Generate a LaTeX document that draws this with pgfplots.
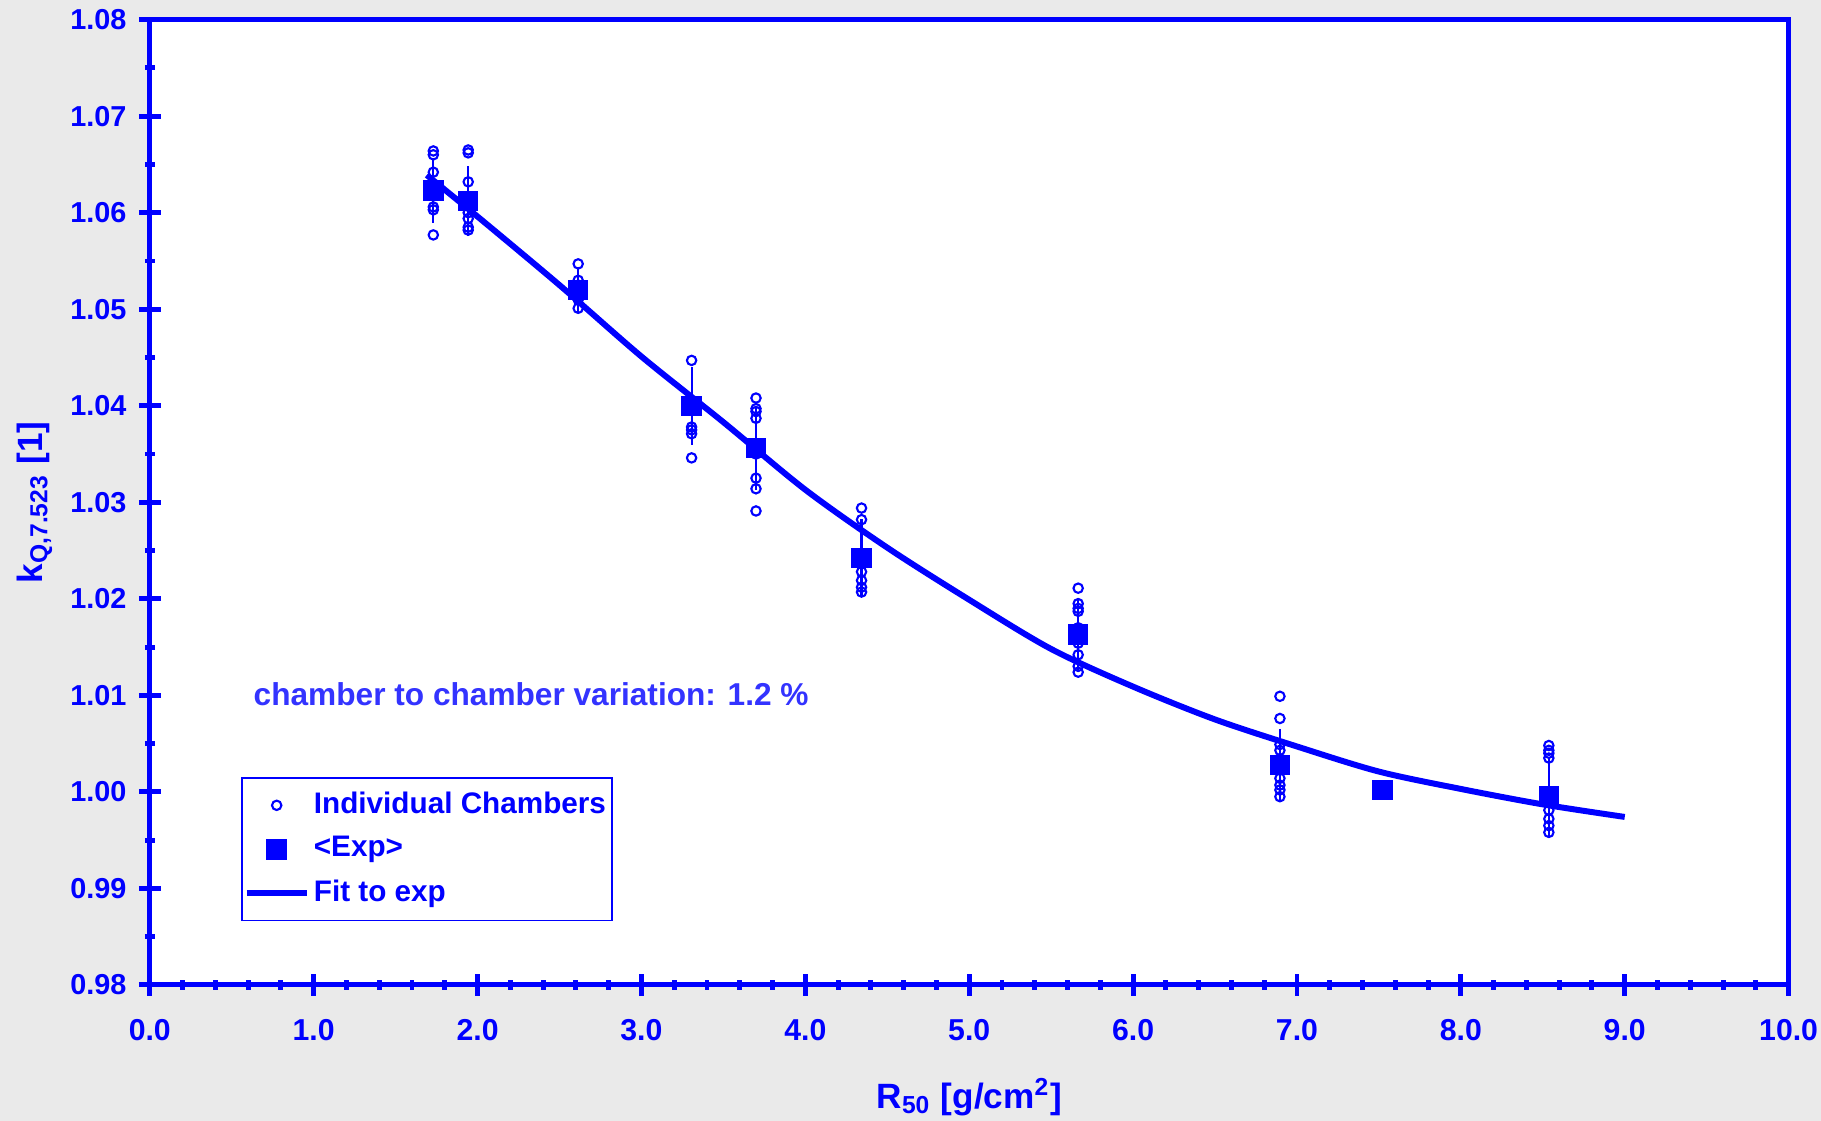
\documentclass[border=0pt]{standalone}
\usepackage{fontspec}
\setmainfont{Liberation Sans}
\usepackage{pgfplots}
\pgfplotsset{compat=1.18}
\definecolor{bggray}{RGB}{234,234,234}
\definecolor{txtblue}{RGB}{51,51,255}

\begin{document}
\begin{tikzpicture}
\useasboundingbox (0,0) rectangle (18.21,11.21);
\fill[bggray] (0,0) rectangle (18.21,11.21);
\begin{axis}[
  at={(1.498cm,1.361cm)}, anchor=south west,
  scale only axis, width=16.388cm, height=9.652cm,
  xmin=0, xmax=10, ymin=0.98, ymax=1.08,
  xtick={0,1,2,3,4,5,6,7,8,9,10}, minor x tick num=4,
  ytick={0.98,0.99,1.00,1.01,1.02,1.03,1.04,1.05,1.06,1.07,1.08}, minor y tick num=1,
  xtick pos=left, ytick pos=left,
  axis background/.style={fill=white},
  axis line style={blue, line width=1.4pt},
  every tick/.style={blue, line width=1.4pt},
  major tick length=0.22cm, minor tick length=0.1cm,
  tick align=center,
  /pgf/number format/assume math mode=true,
  xticklabel style={font=\fontsize{8.6}{9}\selectfont\bfseries, text=blue, yshift=-0.11cm,
    /pgf/number format/.cd, fixed, fixed zerofill, precision=1},
  yticklabel style={font=\fontsize{8.2}{9}\selectfont\bfseries, text=blue,
    /pgf/number format/.cd, fixed, fixed zerofill, precision=2},
  xlabel={R\textsubscript{50} [g/cm\textsuperscript{2}]},
  ylabel={k\textsubscript{Q,7.523} [1]},
  label style={font=\fontsize{10}{11}\selectfont\bfseries, text=blue},
  xlabel style={at={(rel axis cs:0.5,0)}, anchor=center, yshift=-1.12cm},
  ylabel style={xshift=0cm, yshift=-0.06cm},
  legend style={at={(rel axis cs:0.0557,0.2154)}, anchor=north west,
    draw=blue, line width=0.5pt, fill=white, text=blue, inner xsep=0.5pt,
    font=\fontsize{8.45}{9}\selectfont\bfseries, row sep=0.035cm,
    nodes={inner xsep=1.2pt}},
  legend cell align=left,
]
% fit curve (drawn first, listed last in the legend)
\addplot[blue, line width=1.7pt, smooth, forget plot] coordinates {
  (1.69,1.0639) (2.0,1.0596) (2.5,1.0525) (3.0,1.0451) (3.5,1.0383)
  (4.0,1.0313) (4.5,1.0253) (5.0,1.0199) (5.5,1.0148) (6.0,1.0109)
  (6.5,1.0075) (7.0,1.0047) (7.5,1.0021) (8.0,1.0003) (8.5,0.9987)
  (9.0,0.9974)
};
% individual chambers
\addplot[only marks, mark=o, mark size=0.047cm, blue, line width=0.6pt,
  mark options={fill=white}] coordinates {
  (1.730,1.0664) (1.730,1.0660) (1.730,1.0642) (1.730,1.0625) (1.730,1.0620)
  (1.730,1.0606) (1.730,1.0603) (1.730,1.0577)
  (1.943,1.0665) (1.943,1.0662) (1.943,1.0632) (1.943,1.0615) (1.943,1.0610)
  (1.943,1.0600) (1.943,1.0594) (1.943,1.0585) (1.943,1.0582)
  (2.614,1.0547) (2.614,1.0530) (2.614,1.0525) (2.614,1.0515) (2.614,1.0510)
  (2.614,1.0501)
  (3.306,1.0447) (3.306,1.0405) (3.306,1.0398) (3.306,1.0378) (3.306,1.0375)
  (3.306,1.0371) (3.306,1.0346)
  (3.699,1.0408) (3.699,1.0397) (3.699,1.0394) (3.699,1.0387) (3.699,1.0360)
  (3.699,1.0350) (3.699,1.0325) (3.699,1.0314) (3.699,1.0291)
  (4.343,1.0294) (4.343,1.0282) (4.343,1.0245) (4.343,1.0228) (4.343,1.0219)
  (4.343,1.0212) (4.343,1.0207)
  (5.665,1.0211) (5.665,1.0195) (5.665,1.0190) (5.665,1.0187) (5.665,1.0170)
  (5.665,1.0154) (5.665,1.0142) (5.665,1.0130) (5.665,1.0124)
  (6.896,1.0099) (6.896,1.0076) (6.896,1.0049) (6.896,1.0043) (6.896,1.0030)
  (6.896,1.0014) (6.896,1.0007) (6.896,1.0002) (6.896,0.9995)
  (8.537,1.0048) (8.537,1.0043) (8.537,1.0040) (8.537,1.0035) (8.537,0.9981)
  (8.537,0.9972) (8.537,0.9965) (8.537,0.9958)
};
\addlegendentry{Individual Chambers}
% mean values
\addplot[only marks, mark=square*, mark size=0.095cm, blue,
  error bars/.cd, y dir=both, y explicit,
  error bar style={blue, line width=0.6pt},
  error mark options={blue, line width=0.6pt, mark size=0.07cm}]
  coordinates {
  (1.730,1.0623) +- (0,0.0026)
  (1.943,1.0612) +- (0,0.0029)
  (2.614,1.0520) +- (0,0.0017)
  (3.306,1.0400) +- (0,0.0033)
  (3.699,1.0356) +- (0,0.0036)
  (4.343,1.0242) +- (0,0.0033)
  (5.665,1.0163) +- (0,0.0030)
  (6.896,1.0028) +- (0,0.0030)
  (7.522,1.0002) +- (0,0)
  (8.537,0.9995) +- (0,0.0033)
};
\addlegendentry{<Exp>}
\addlegendimage{blue, line width=1.7pt}
\addlegendentry{Fit to exp}
\node[anchor=west, inner sep=0pt, text=txtblue, font=\fontsize{9}{10}\selectfont\bfseries]
  at (axis cs:0.63,1.0101) {chamber to chamber variation: 1.2 \%};
\end{axis}
\end{tikzpicture}
\end{document}
